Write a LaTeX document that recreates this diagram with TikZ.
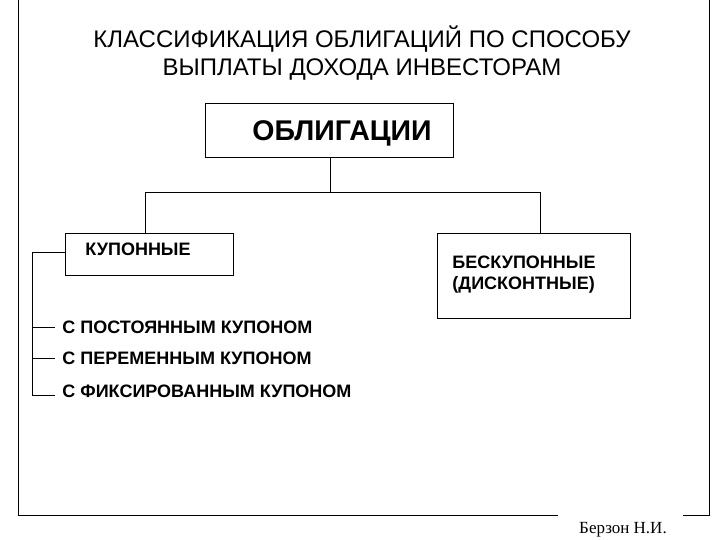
\documentclass[tikz,border=0pt]{standalone}
\usepackage{fontspec}
\setmainfont{Liberation Sans}
\newfontfamily\serifn{Liberation Serif}
\begin{document}
\begin{tikzpicture}[x=1pt,y=-1pt,line width=0.9pt,
  box/.style={draw,rectangle,anchor=north west,inner sep=0pt},
  lbl/.style={anchor=west,font=\bfseries\fontsize{18}{21}\selectfont,inner sep=0pt}]
\useasboundingbox[fill=white] (0,0) rectangle (720,540);
\draw (558,515) -- (18,515) -- (18,-1) (709,-1) -- (709,515) -- (683,515);
\node[align=center,font=\fontsize{24}{28}\selectfont] (title) at (362,53) {КЛАССИФИКАЦИЯ ОБЛИГАЦИЙ ПО СПОСОБУ\\ВЫПЛАТЫ ДОХОДА ИНВЕСТОРАМ};
\node[box,minimum width=248pt,minimum height=54pt] (obl) at (205,103) {};
\node[font=\bfseries\fontsize{28.5}{30}\selectfont] at (342,133) {ОБЛИГАЦИИ};
\node[box,minimum width=168pt,minimum height=42pt] (kup) at (65,233) {};
\node[lbl] at (85,249) {КУПОННЫЕ};
\node[box,minimum width=193pt,minimum height=85pt] (besk) at (437,233) {};
\node[lbl,align=left] at (452,275) {БЕСКУПОННЫЕ\\(ДИСКОНТНЫЕ)};
\coordinate (hub) at (330,192);
\draw (obl.south -| hub) -- (hub);
\draw (145,192) -- (540,192);
\draw (145,192) -- (kup.north -| 145,0);
\draw (540,192) -- (besk.north -| 540,0);
\node[lbl] (c1) at (62,327) {С ПОСТОЯННЫМ КУПОНОМ};
\node[lbl] (c2) at (62,358) {С ПЕРЕМЕННЫМ КУПОНОМ};
\node[lbl] (c3) at (62,391) {С ФИКСИРОВАННЫМ КУПОНОМ};
\draw (kup.west |- 0,252) -- (32,252) -- (32,395) -- (55,395);
\draw (32,327) -- (55,327);
\draw (32,358) -- (55,358);
\node[font=\serifn\fontsize{17}{19}\selectfont] (auth) at (623,530) {Берзон Н.И.};
\end{tikzpicture}
\end{document}
